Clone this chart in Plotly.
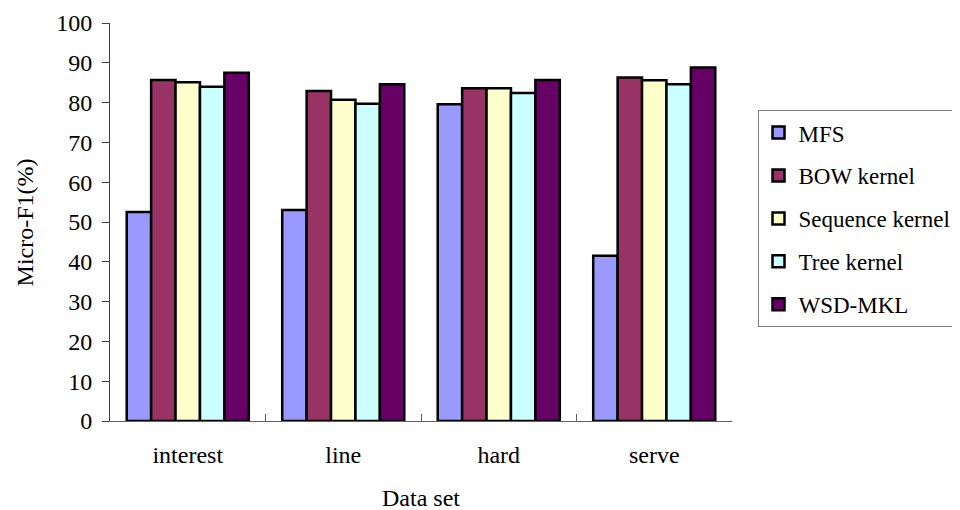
import plotly.graph_objects as go

categories = ["interest", "line", "hard", "serve"]
series_names = ["MFS", "BOW kernel", "Sequence kernel", "Tree kernel", "WSD-MKL"]
mfs = [52.5, 53.0, 79.6, 41.5]
bow = [85.7, 82.9, 83.6, 86.3]
seq = [85.1, 80.7, 83.6, 85.6]
tree = [84.0, 79.7, 82.4, 84.6]
wsd = [87.5, 84.6, 85.7, 88.8]
colors = ["#9999FF", "#993366", "#FFFFCC", "#CCFFFF", "#660066"]
y_ticks = list(range(0, 101, 10))

FONT = "Liberation Serif"
LEGEND_FONT = "'Liberation Serif', 'Times New Roman', Times, serif"

fig = go.Figure()
for i, (name, vals) in enumerate(zip(series_names, [mfs, bow, seq, tree, wsd])):
    fig.add_trace(go.Bar(
        x=categories, y=vals, name=name, legendgroup=name,
        marker=dict(color=colors[i], line=dict(color="black", width=2.5)),
    ))

fig.update_layout(
    width=960, height=510,
    margin=dict(l=102, r=225, t=15, b=97),
    paper_bgcolor="white", plot_bgcolor="white",
    barmode="group", bargap=0.215, bargroupgap=0,
    font=dict(family=FONT, size=23, color="black"),
    showlegend=True,
    legend=dict(
        x=1.041, y=0.781, xanchor="left", yanchor="top",
        bordercolor="#808080", borderwidth=1, bgcolor="white",
        font=dict(family=LEGEND_FONT, size=23, color="black"),
        traceorder="grouped", tracegroupgap=10,
    ),
    annotations=[dict(
        text="Micro-F1(%)", textangle=-90, showarrow=False,
        xref="paper", yref="paper", x=-0.136, y=0.5,
        xanchor="center", yanchor="middle",
        font=dict(family=FONT, size=24, color="black"),
    )],
)
fig.update_yaxes(
    range=[0, 100], tickvals=y_ticks, showgrid=False, zeroline=False,
    showline=True, linecolor="#404040", linewidth=1, automargin=False,
    ticks="outside", ticklen=7, tickcolor="#404040", ticklabelstandoff=5,
    tickfont=dict(family=FONT, size=24),
)
fig.update_xaxes(
    showgrid=False, showline=True, linecolor="#606060", linewidth=1, automargin=False,
    ticks="inside", ticklen=7, tickcolor="#606060", tickson="boundaries",
    ticklabelstandoff=12,
    title=dict(text="Data set", font=dict(family=FONT, size=24), standoff=22),
    tickfont=dict(family=FONT, size=24),
)

fig.write_html("out.html")
